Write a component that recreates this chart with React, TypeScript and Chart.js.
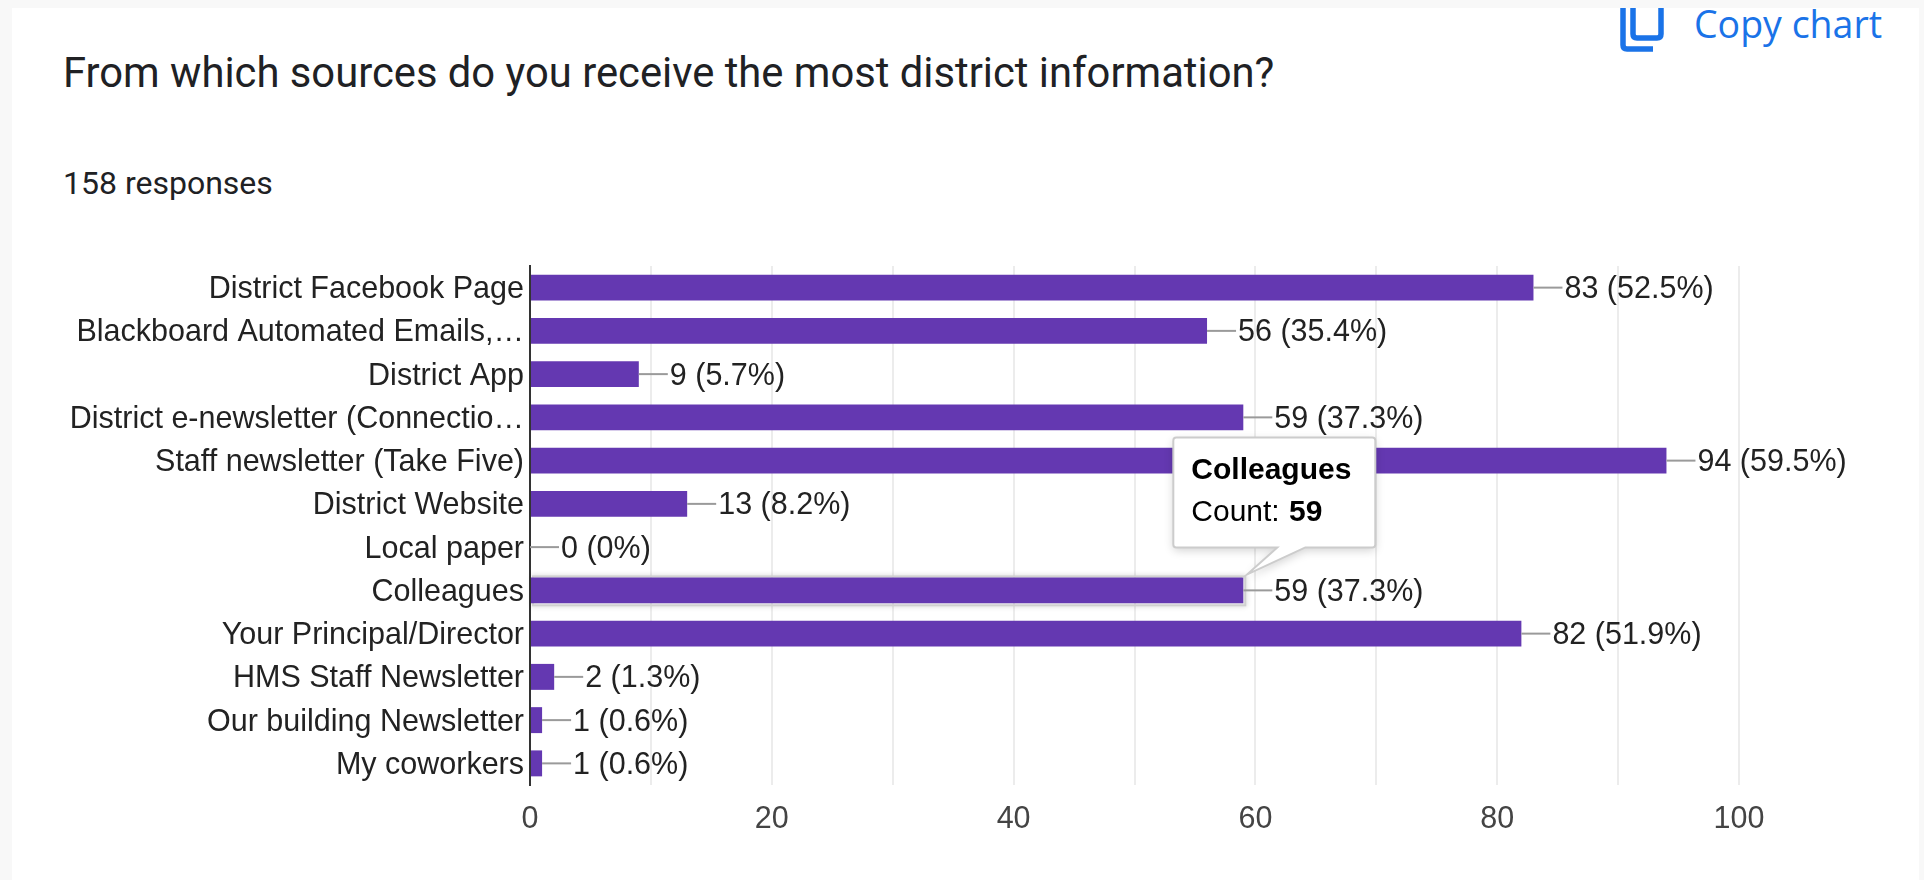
import React, { useEffect, useRef } from "react";
import { Chart, registerables } from "chart.js";

Chart.register(...registerables);

const categories = [
  "District Facebook Page",
  "Blackboard Automated Emails,…",
  "District App",
  "District e-newsletter (Connectio…",
  "Staff newsletter (Take Five)",
  "District Website",
  "Local paper",
  "Colleagues",
  "Your Principal/Director",
  "HMS Staff Newsletter",
  "Our building Newsletter",
  "My coworkers",
];
const counts = [83, 56, 9, 59, 94, 13, 0, 59, 82, 2, 1, 1];
const percents = ["52.5", "35.4", "5.7", "37.3", "59.5", "8.2", "0", "37.3", "51.9", "1.3", "0.6", "0.6"];
const labelledTicks = [0, 20, 40, 60, 80, 100];
const highlightedIndex = 7;
const FONT = '"Liberation Sans", Arial, sans-serif';
const BAR_COLOR = "#6438b1";

// Nudges the category labels down so they sit optically centred on their bars.
const categoryLabelNudge = {
  id: "categoryLabelNudge",
  beforeDraw(chart: any) {
    const scale = chart.scales.y;
    if (scale.$nudged) return;
    scale.getLabelItems().forEach((item: any) => {
      item.options.translation[1] += 2;
    });
    scale.$nudged = true;
  },
};

// Count and share at the end of each bar, joined to it by a short leader line.
const valueLabels = {
  id: "valueLabels",
  afterDatasetsDraw(chart: any) {
    const { ctx } = chart;
    const bars = chart.getDatasetMeta(0).data;
    ctx.save();
    ctx.font = `30.5px ${FONT}`;
    ctx.textAlign = "left";
    ctx.textBaseline = "middle";
    bars.forEach((bar: any, i: number) => {
      ctx.strokeStyle = "#9a9a9a";
      ctx.lineWidth = 2;
      ctx.beginPath();
      ctx.moveTo(bar.x, bar.y);
      ctx.lineTo(bar.x + 29, bar.y);
      ctx.stroke();
      ctx.fillStyle = "#222222";
      ctx.fillText(`${counts[i]} (${percents[i]}%)`, bar.x + 31, bar.y + 2);
    });
    ctx.restore();
  },
};

// Hover state of one bar: a soft outline round it and a callout above it.
const hoverCallout = {
  id: "hoverCallout",
  beforeDatasetsDraw(chart: any) {
    const { ctx } = chart;
    const bar = chart.getDatasetMeta(0).data[highlightedIndex];
    const h = bar.height;
    ctx.save();
    ctx.strokeStyle = "#d0d0d0";
    ctx.lineWidth = 2;
    ctx.shadowColor = "rgba(0,0,0,0.25)";
    ctx.shadowBlur = 5;
    ctx.strokeRect(bar.base + 2, bar.y - h / 2 - 1, bar.x - bar.base, h + 3);
    ctx.restore();
  },
  afterDraw(chart: any) {
    const { ctx } = chart;
    const bar = chart.getDatasetMeta(0).data[highlightedIndex];
    const left = bar.x - 70;
    const right = bar.x + 132;
    const bottom = bar.y - 43;
    const top = bottom - 110;
    const tipX = bar.x + 4;
    const tipY = bar.y - 16;
    const r = 3;
    ctx.save();
    ctx.beginPath();
    ctx.moveTo(left + r, top);
    ctx.lineTo(right - r, top);
    ctx.quadraticCurveTo(right, top, right, top + r);
    ctx.lineTo(right, bottom - r);
    ctx.quadraticCurveTo(right, bottom, right - r, bottom);
    ctx.lineTo(bar.x + 62, bottom);
    ctx.lineTo(tipX, tipY);
    ctx.lineTo(bar.x + 34, bottom);
    ctx.lineTo(left + r, bottom);
    ctx.quadraticCurveTo(left, bottom, left, bottom - r);
    ctx.lineTo(left, top + r);
    ctx.quadraticCurveTo(left, top, left + r, top);
    ctx.closePath();
    ctx.shadowColor = "rgba(0,0,0,0.18)";
    ctx.shadowBlur = 10;
    ctx.shadowOffsetY = 3;
    ctx.fillStyle = "#ffffff";
    ctx.fill();
    ctx.shadowColor = "transparent";
    ctx.strokeStyle = "#cccccc";
    ctx.lineWidth = 2;
    ctx.stroke();

    ctx.fillStyle = "#000000";
    ctx.textAlign = "left";
    ctx.textBaseline = "alphabetic";
    ctx.font = `bold 30px ${FONT}`;
    ctx.fillText(categories[highlightedIndex], left + 18, top + 42);
    ctx.font = `30px ${FONT}`;
    const prefix = "Count: ";
    ctx.fillText(prefix, left + 18, top + 84);
    const w = ctx.measureText(prefix).width;
    ctx.font = `bold 30px ${FONT}`;
    ctx.fillText(String(counts[highlightedIndex]), left + 19 + w, top + 84);
    ctx.restore();
  },
};

export default function App() {
  const canvasRef = useRef<HTMLCanvasElement>(null);

  useEffect(() => {
    document.body.style.margin = "0";
    document.body.style.background = "#f8f8f8";
    const chart = new Chart(canvasRef.current!, {
      type: "bar",
      data: {
        labels: categories,
        datasets: [
          {
            data: counts,
            backgroundColor: BAR_COLOR,
            barPercentage: 0.6,
            categoryPercentage: 1,
          },
        ],
      },
      options: {
        indexAxis: "y",
        animation: false,
        responsive: false,
        events: [],
        layout: { padding: { top: 266, right: 185, bottom: 0, left: 0 } },
        plugins: { legend: { display: false }, tooltip: { enabled: false } },
        scales: {
          x: {
            min: 0,
            max: 100,
            afterFit(scale: any) {
              scale.height = 95;
            },
            ticks: {
              stepSize: 10,
              autoSkip: false,
              maxRotation: 0,
              padding: 16,
              color: "#444444",
              font: { family: FONT, size: 30.5 },
              callback: (v: any) => (labelledTicks.includes(Number(v)) ? String(v) : ""),
            },
            grid: { color: "#ececec", lineWidth: 2, drawTicks: false },
            border: { display: false },
          },
          y: {
            afterFit(scale: any) {
              scale.width = 530;
            },
            ticks: {
              autoSkip: false,
              padding: 6,
              color: "#222222",
              font: { family: FONT, size: 30.5 },
            },
            grid: { display: false, drawTicks: false },
            border: { color: "#333333", width: 2 },
          },
        },
      },
      plugins: [categoryLabelNudge, hoverCallout, valueLabels],
    } as any);
    return () => chart.destroy();
  }, []);

  return (
    <div style={{ position: "relative", width: 1924, height: 880, overflow: "hidden" }}>
      <div style={{ position: "absolute", left: 12, top: 8, width: 1907, height: 872, background: "#ffffff" }} />
      <div
        style={{
          position: "absolute",
          left: 63,
          top: 48,
          font: '41.75px Roboto, sans-serif',
          color: "#202124",
          whiteSpace: "nowrap",
        }}
      >
        From which sources do you receive the most district information?
      </div>
      <div
        style={{
          position: "absolute",
          left: 63,
          top: 164,
          font: '32px Roboto, sans-serif',
          color: "#202124",
          whiteSpace: "nowrap",
        }}
      >
        158 responses
      </div>
      <svg style={{ position: "absolute", left: 1615, top: 8 }} width={55} height={50}>
        <path d="M8 0 V37 Q8 41 12 41 H38" fill="none" stroke="#1a73e8" strokeWidth={5.5} />
        <path d="M18 0 V26 Q18 30 22 30 H42 Q46 30 46 26 V0" fill="none" stroke="#1a73e8" strokeWidth={5.5} />
      </svg>
      <div
        style={{
          position: "absolute",
          left: 1694,
          top: -2,
          font: '500 37.5px "Open Sans", sans-serif',
          color: "#1a73e8",
          whiteSpace: "nowrap",
        }}
      >
        Copy chart
      </div>
      <canvas ref={canvasRef} width={1924} height={880} style={{ position: "absolute", left: 0, top: 0 }} />
    </div>
  );
}
